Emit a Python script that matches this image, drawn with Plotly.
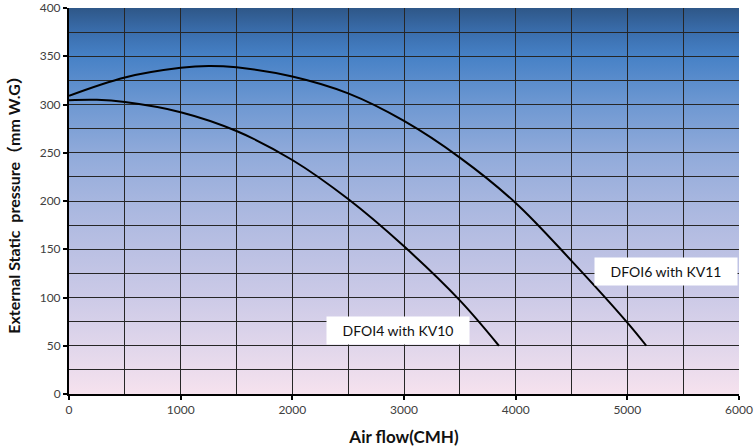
import base64
import plotly.graph_objects as go

# ---- data ----
airflow_dfoi6 = [0, 500, 1000, 1250, 1500, 2000, 2500, 3000, 3500, 4000, 4500, 5000, 5170]
pressure_dfoi6 = [309, 328, 338, 340, 338.5, 329, 311.5, 283, 245, 198, 138, 74, 50]

airflow_dfoi4 = [0, 250, 500, 1000, 1500, 2000, 2500, 3000, 3500, 3850]
pressure_dfoi4 = [304.5, 304.8, 302.5, 292, 272.5, 242.5, 202, 153, 97, 50]

label_dfoi6 = "DFOI6 with KV11"
label_dfoi4 = "DFOI4 with KV10"
label_pos_dfoi6 = (5350, 127)
label_pos_dfoi4 = (2945, 66)

x_title = "Air flow(CMH)"
y_title = "External Static  pressure（mm W.G）"

x_range = [0, 6000]
y_range = [0, 400]

# background gradient stops (pressure value, colour)
grad_stops = [
    (0, "#F6E2EE"),
    (50, "#E0D6EB"),
    (100, "#CCCAE7"),
    (150, "#BAC0E3"),
    (200, "#A7B6DF"),
    (250, "#90AADA"),
    (300, "#6E98D2"),
    (350, "#4681C6"),
    (375, "#3A6EAD"),
    (400, "#2E5788"),
]

stops_svg = "".join(
    f'<stop offset="{(y_range[1] - v) / (y_range[1] - y_range[0]):.4f}" stop-color="{c}"/>'
    for v, c in sorted(grad_stops, key=lambda s: -s[0])
)
svg = (
    '<svg xmlns="http://www.w3.org/2000/svg" width="100" height="100" '
    'viewBox="0 0 100 100" preserveAspectRatio="none">'
    '<defs><linearGradient id="g" x1="0" y1="0" x2="0" y2="1">'
    f'{stops_svg}</linearGradient></defs>'
    '<rect x="0" y="0" width="100" height="100" fill="url(#g)"/></svg>'
)
grad_uri = "data:image/svg+xml;base64," + base64.b64encode(svg.encode()).decode()

fig = go.Figure()
fig.add_trace(go.Scatter(
    x=airflow_dfoi6, y=pressure_dfoi6, mode="lines",
    line=dict(color="black", width=2, shape="spline", smoothing=1.0),
    showlegend=False, hoverinfo="skip",
))
fig.add_trace(go.Scatter(
    x=airflow_dfoi4, y=pressure_dfoi4, mode="lines",
    line=dict(color="black", width=2, shape="spline", smoothing=1.0),
    showlegend=False, hoverinfo="skip",
))

font_family = "Lato, 'Noto Sans CJK SC', sans-serif"

annotations = []
for txt, (ax_, ay_) in [(label_dfoi6, label_pos_dfoi6), (label_dfoi4, label_pos_dfoi4)]:
    annotations.append(dict(
        x=ax_, y=ay_, xref="x", yref="y", text=txt, showarrow=False,
        bgcolor="white", width=140, height=25, borderpad=1,
        font=dict(family=font_family, size=14, color="#111111"),
    ))

fig.update_layout(
    width=756, height=447,
    margin=dict(l=69, r=17, t=8, b=53),
    paper_bgcolor="white",
    plot_bgcolor="rgba(0,0,0,0)",
    images=[dict(
        source=grad_uri, xref="x domain", yref="y domain",
        x=0, y=1, sizex=1, sizey=1, xanchor="left", yanchor="top",
        sizing="stretch", layer="below",
    )],
    annotations=annotations,
    font=dict(family=font_family, size=12, color="#404040"),
    xaxis=dict(
        range=x_range, dtick=1000, tick0=0,
        showgrid=True, gridcolor="#262626", gridwidth=1,
        minor=dict(dtick=500, showgrid=True, gridcolor="#262626", gridwidth=1),
        showline=True, linecolor="black", linewidth=2,
        ticks="outside", ticklen=4, tickcolor="black", tickwidth=1.5,
        zeroline=False, automargin=False,
        title=dict(text=f"<b>{x_title}</b>", font=dict(size=17, color="#111111")),
        tickfont=dict(size=12, color="#404040"),
    ),
    yaxis=dict(
        range=y_range, dtick=50, tick0=0,
        showgrid=True, gridcolor="#262626", gridwidth=1,
        minor=dict(dtick=25, showgrid=True, gridcolor="#262626", gridwidth=1),
        showline=True, linecolor="black", linewidth=2,
        ticks="outside", ticklen=4, tickcolor="black", tickwidth=1.5,
        zeroline=False, automargin=False,
        title=dict(text=f"<b>{y_title}</b>", font=dict(size=16, color="#111111")),
        tickfont=dict(size=12, color="#404040"),
    ),
)

fig.write_html(
    "out.html",
    config={"displayModeBar": False},
    post_script="document.body.style.margin='0';",
)
